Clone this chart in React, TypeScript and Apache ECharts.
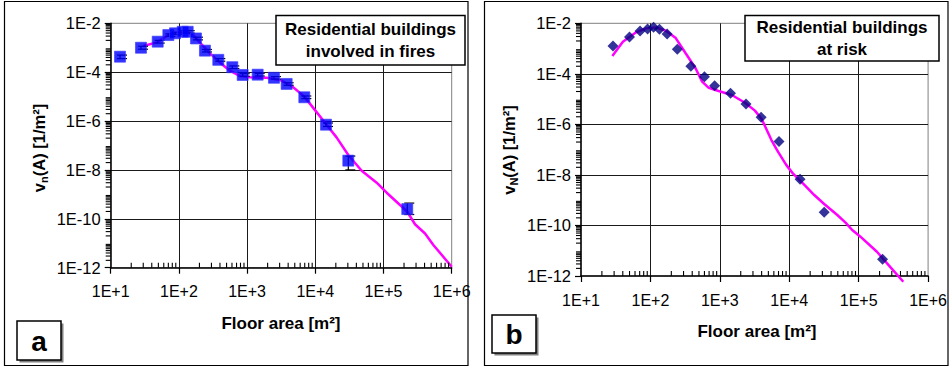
import React, { useEffect, useRef } from "react";
import * as echarts from "echarts";

// ---------- data (panel a: residential buildings involved in fires) ----------
const fireArea = [13.7, 27.8, 48.9, 70, 87.7, 113.7, 134.6, 178, 241, 378, 607, 861, 1429, 2478, 3802, 6900, 14350, 30480, 223000];
const fireFreq = [4.3e-4, 1.0e-3, 1.77e-3, 3.3e-3, 3.9e-3, 4.5e-3, 4.5e-3, 2.4e-3, 7.6e-4, 3.2e-4, 1.6e-4, 7.7e-5, 7.9e-5, 5.9e-5, 3.3e-5, 9.4e-6, 7.1e-7, 2.4e-8, 2.5e-10];
const fireUpper = [5.0e-4, 1.15e-3, 2.0e-3, 3.7e-3, 4.3e-3, 5.0e-3, 5.0e-3, 2.7e-3, 8.5e-4, 3.6e-4, 1.8e-4, 8.7e-5, 8.9e-5, 6.6e-5, 3.7e-5, 1.06e-5, 8.3e-7, 3.7e-8, 4.4e-10];
const fireLower = [3.6e-4, 8.7e-4, 1.55e-3, 2.9e-3, 3.5e-3, 4.0e-3, 4.0e-3, 2.1e-3, 6.7e-4, 2.8e-4, 1.4e-4, 6.8e-5, 7.0e-5, 5.2e-5, 2.9e-5, 8.3e-6, 6.0e-7, 1.0e-8, 1.5e-10];
const fireFitArea = [30.1, 48.9, 70, 92.7, 130, 162.6, 203.7, 285.8, 400.9, 561, 787, 1102, 1936, 3034, 4508, 6902, 9908, 14350, 20610, 30480, 47860, 79430, 111400, 223400, 289700, 406400, 538300, 1e6];
const fireFitFreq = [1.17e-3, 1.7e-3, 3.3e-3, 4.2e-3, 4.6e-3, 3.3e-3, 1.62e-3, 5.9e-4, 2.45e-4, 1.15e-4, 6.9e-5, 6.2e-5, 5.9e-5, 4.8e-5, 2.7e-5, 1.0e-5, 2.8e-6, 7.6e-7, 2.1e-7, 4.1e-8, 9.3e-9, 3.0e-9, 1.17e-9, 1.95e-10, 6.0e-11, 2.5e-11, 8.5e-12, 1.1e-12];

// ---------- data (panel b: residential buildings at risk) ----------
const riskArea = [28.9, 50, 71, 91, 111, 135, 174, 244, 383, 600, 841, 1423, 2382, 3937, 7110, 14320, 31870, 221000];
const riskFreq = [1.26e-3, 2.9e-3, 5.0e-3, 5.9e-3, 6.9e-3, 5.8e-3, 3.8e-3, 9.3e-4, 2.0e-4, 7.7e-5, 3.4e-5, 1.7e-5, 6.4e-6, 1.9e-6, 2.1e-7, 6.8e-9, 3.3e-10, 4.6e-12];
const riskFitArea = [28.3, 40.1, 62.2, 86.5, 120, 166.7, 231.7, 321.4, 446.7, 555.9, 691.8, 959.4, 1486, 2307, 3199, 3981, 4446, 5534, 6871, 9036, 11250, 16520, 22910, 31840, 49200, 64710, 80720, 105900, 183200, 283800, 439500];
const riskFitFreq = [5.1e-4, 1.86e-3, 4.4e-3, 6.3e-3, 6.9e-3, 5.1e-3, 2.6e-3, 6.5e-4, 1.66e-4, 4.9e-5, 2.8e-5, 2.1e-5, 1.45e-5, 7.2e-6, 3.5e-6, 1.66e-6, 8.9e-7, 2.4e-7, 8.3e-8, 2.5e-8, 1.15e-8, 4.0e-9, 1.6e-9, 7.1e-10, 2.6e-10, 1.3e-10, 6.6e-11, 3.6e-11, 9.1e-12, 2.3e-12, 5.9e-13];

// ---------- axes ----------
const xMinExp = 1;
const xMaxExp = 6;
const yMinExp = -12;
const yMaxExp = -2;
const xTickPrefix = "1E+";
const yTickPrefix = "1E";
const minorMultipliers = [2, 3, 4, 5, 6, 7, 8, 9];

const FONT = '"Liberation Sans", Arial, Helvetica, sans-serif';
const L = Math.log10;

function renderErr(params: any, api: any) {
  const x = api.value(0);
  const lo = api.coord([x, api.value(1)]);
  const hi = api.coord([x, api.value(2)]);
  const st = { stroke: "#000", lineWidth: 1.2 };
  return {
    type: "group",
    children: [
      { type: "line", shape: { x1: lo[0], y1: lo[1], x2: hi[0], y2: hi[1] }, style: st },
      { type: "line", shape: { x1: lo[0] - 3, y1: lo[1], x2: lo[0] + 7, y2: lo[1] }, style: st },
      { type: "line", shape: { x1: hi[0] - 3, y1: hi[1], x2: hi[0] + 7, y2: hi[1] }, style: st },
    ],
  };
}

function makeAxes(gi: number) {
  const x = {
    gridIndex: gi,
    type: "value",
    min: xMinExp,
    max: xMaxExp,
    interval: 1,
    axisLine: { show: true, lineStyle: { color: "#000", width: 1.5 } },
    axisTick: { show: true, length: 6, lineStyle: { color: "#000", width: 1.2 } },
    axisLabel: { formatter: (v: number) => xTickPrefix + v, fontSize: 16, color: "#000", fontFamily: FONT, margin: 16 },
    splitLine: { show: true, showMinLine: false, showMaxLine: false, lineStyle: { color: "#1a1a1a", width: 1 } },
  };
  const y = {
    gridIndex: gi,
    type: "value",
    min: yMinExp,
    max: yMaxExp,
    interval: 2,
    axisLine: { show: true, lineStyle: { color: "#000", width: 1.5 } },
    axisTick: { show: true, length: 6, lineStyle: { color: "#000", width: 1.2 } },
    axisLabel: { formatter: (v: number) => yTickPrefix + v, fontSize: 16.5, color: "#000", fontFamily: FONT, margin: 10 },
    splitLine: { show: true, showMinLine: false, showMaxLine: false, lineStyle: { color: "#1a1a1a", width: 1 } },
  };
  return { x, y };
}

export default function App() {
  const ref = useRef<HTMLDivElement>(null);
  useEffect(() => {
    if (!ref.current) return;
    const chart = echarts.init(ref.current, null, { renderer: "svg", width: 950, height: 367 });
    const a = makeAxes(0);
    const b = makeAxes(1);
    const pts = (xs: number[], ys: number[]) => xs.map((v, i) => [L(v), L(ys[i])]);
    const errs = fireArea.map((v, i) => [L(v), L(fireLower[i]), L(fireUpper[i])]);

    const titleRich = (sub: string) => ({
      text: "{a|v}{s|" + sub + "}{a|(A) [1/m²]}",
      rich: {
        a: { fontSize: 16.5, fontWeight: "bold", fontFamily: FONT, fill: "#000", lineHeight: 20 },
        s: { fontSize: 11, fontWeight: "bold", fontFamily: FONT, fill: "#000", lineHeight: 11, verticalAlign: "bottom" },
      },
      align: "center",
      verticalAlign: "middle",
    });
    const boxText = { fontSize: 17, fontWeight: "bold", fontFamily: FONT, fill: "#000", align: "center", verticalAlign: "middle", lineHeight: 22 };

    const staticGraphics: any[] = [
      // panel frames
      { type: "rect", z: 100, shape: { x: 4.5, y: 1.5, width: 463.5, height: 364 }, style: { fill: "none", stroke: "#000", lineWidth: 1.2 } },
      { type: "rect", z: 100, shape: { x: 484.5, y: 1.5, width: 463.5, height: 364 }, style: { fill: "none", stroke: "#000", lineWidth: 1.2 } },
      // text boxes
      { type: "rect", z: 100, shape: { x: 276, y: 15.5, width: 189, height: 49.5 }, style: { fill: "#fff", stroke: "#000", lineWidth: 1.5 } },
      { type: "text", z: 101, x: 370.5, y: 40.5, style: { ...boxText, text: "Residential buildings\ninvolved in fires" } },
      { type: "rect", z: 100, shape: { x: 745, y: 15.5, width: 194, height: 45.5 }, style: { fill: "#fff", stroke: "#000", lineWidth: 1.5 } },
      { type: "text", z: 101, x: 842, y: 38.5, style: { ...boxText, text: "Residential buildings\nat risk" } },
      // panel letters with shadow
      { type: "rect", z: 100, shape: { x: 19.5, y: 323.5, width: 44, height: 39 }, style: { fill: "#808080" } },
      { type: "rect", z: 101, shape: { x: 17, y: 321, width: 44, height: 39 }, style: { fill: "#fff", stroke: "#000", lineWidth: 1.5 } },
      { type: "text", z: 102, x: 39, y: 341, style: { text: "a", fontSize: 28, fontWeight: "bold", fontFamily: FONT, fill: "#000", align: "center", verticalAlign: "middle" } },
      { type: "rect", z: 100, shape: { x: 494.5, y: 317.5, width: 44, height: 38 }, style: { fill: "#808080" } },
      { type: "rect", z: 101, shape: { x: 492, y: 315, width: 44, height: 38 }, style: { fill: "#fff", stroke: "#000", lineWidth: 1.5 } },
      { type: "text", z: 102, x: 514, y: 334, style: { text: "b", fontSize: 28, fontWeight: "bold", fontFamily: FONT, fill: "#000", align: "center", verticalAlign: "middle" } },
      // axis titles
      { type: "text", z: 100, x: 281, y: 323.5, style: { text: "Floor area [m²]", fontSize: 17, fontWeight: "bold", fontFamily: FONT, fill: "#000", align: "center", verticalAlign: "middle" } },
      { type: "text", z: 100, x: 757, y: 331.5, style: { text: "Floor area [m²]", fontSize: 17, fontWeight: "bold", fontFamily: FONT, fill: "#000", align: "center", verticalAlign: "middle" } },
      { type: "text", z: 100, x: 39, y: 148, rotation: Math.PI / 2, style: titleRich("n") },
      { type: "text", z: 100, x: 509, y: 150, rotation: Math.PI / 2, style: titleRich("N") },
    ];

    chart.setOption({
      animation: false,
      backgroundColor: "#fff",
      grid: [
        { left: 110.7, top: 23.3, width: 341, height: 244.4, show: true, borderColor: "#808080", borderWidth: 1, backgroundColor: "#fff" },
        { left: 581, top: 23.3, width: 350.7, height: 252.7, show: true, borderColor: "#808080", borderWidth: 1, backgroundColor: "#fff" },
      ],
      xAxis: [a.x, b.x],
      yAxis: [a.y, b.y],
      series: [
        {
          type: "line", xAxisIndex: 0, yAxisIndex: 0, data: pts(fireFitArea, fireFitFreq), showSymbol: false, clip: false,
          lineStyle: { color: "#ff00ff", width: 2.5 }, z: 2, silent: true,
        },
        { type: "custom", xAxisIndex: 0, yAxisIndex: 0, data: errs, renderItem: renderErr, silent: true, clip: false, z: 3 },
        {
          type: "scatter", xAxisIndex: 0, yAxisIndex: 0, data: pts(fireArea, fireFreq), symbol: "rect", symbolSize: 11,
          itemStyle: { color: "#0000ff", borderColor: "#3a3aff", borderWidth: 0.8 }, z: 4, silent: true,
        },
        {
          type: "line", xAxisIndex: 1, yAxisIndex: 1, data: pts(riskFitArea, riskFitFreq), showSymbol: false, clip: false,
          lineStyle: { color: "#ff00ff", width: 2.5 }, z: 2, silent: true,
        },
        {
          type: "scatter", xAxisIndex: 1, yAxisIndex: 1, data: pts(riskArea, riskFreq), symbol: "diamond", symbolSize: 11,
          itemStyle: { color: "#000080" }, z: 4, silent: true,
        },
      ],
      graphic: staticGraphics,
    });

    // minor ticks of the logarithmic axes, positioned through the chart's own scales
    const ticks: any[] = [];
    const tickStyle = { stroke: "#000", lineWidth: 1.1 };
    [0, 1].forEach((gi) => {
      for (let d = xMinExp; d < xMaxExp; d++) {
        minorMultipliers.forEach((k) => {
          const p = chart.convertToPixel({ gridIndex: gi }, [L(k * Math.pow(10, d)), yMinExp]) as number[];
          ticks.push({ type: "line", z: 50, shape: { x1: p[0], y1: p[1], x2: p[0], y2: p[1] - 5 }, style: tickStyle });
        });
      }
      for (let d = yMinExp; d < yMaxExp; d++) {
        minorMultipliers.forEach((k) => {
          const p = chart.convertToPixel({ gridIndex: gi }, [xMinExp, L(k * Math.pow(10, d))]) as number[];
          ticks.push({ type: "line", z: 50, shape: { x1: p[0] - 5, y1: p[1], x2: p[0], y2: p[1] }, style: tickStyle });
        });
      }
    });
    chart.setOption({ graphic: staticGraphics.concat(ticks) });

    return () => chart.dispose();
  }, []);
  return <div ref={ref} style={{ position: "absolute", left: 0, top: 0, width: 950, height: 367, background: "#fff" }} />;
}
